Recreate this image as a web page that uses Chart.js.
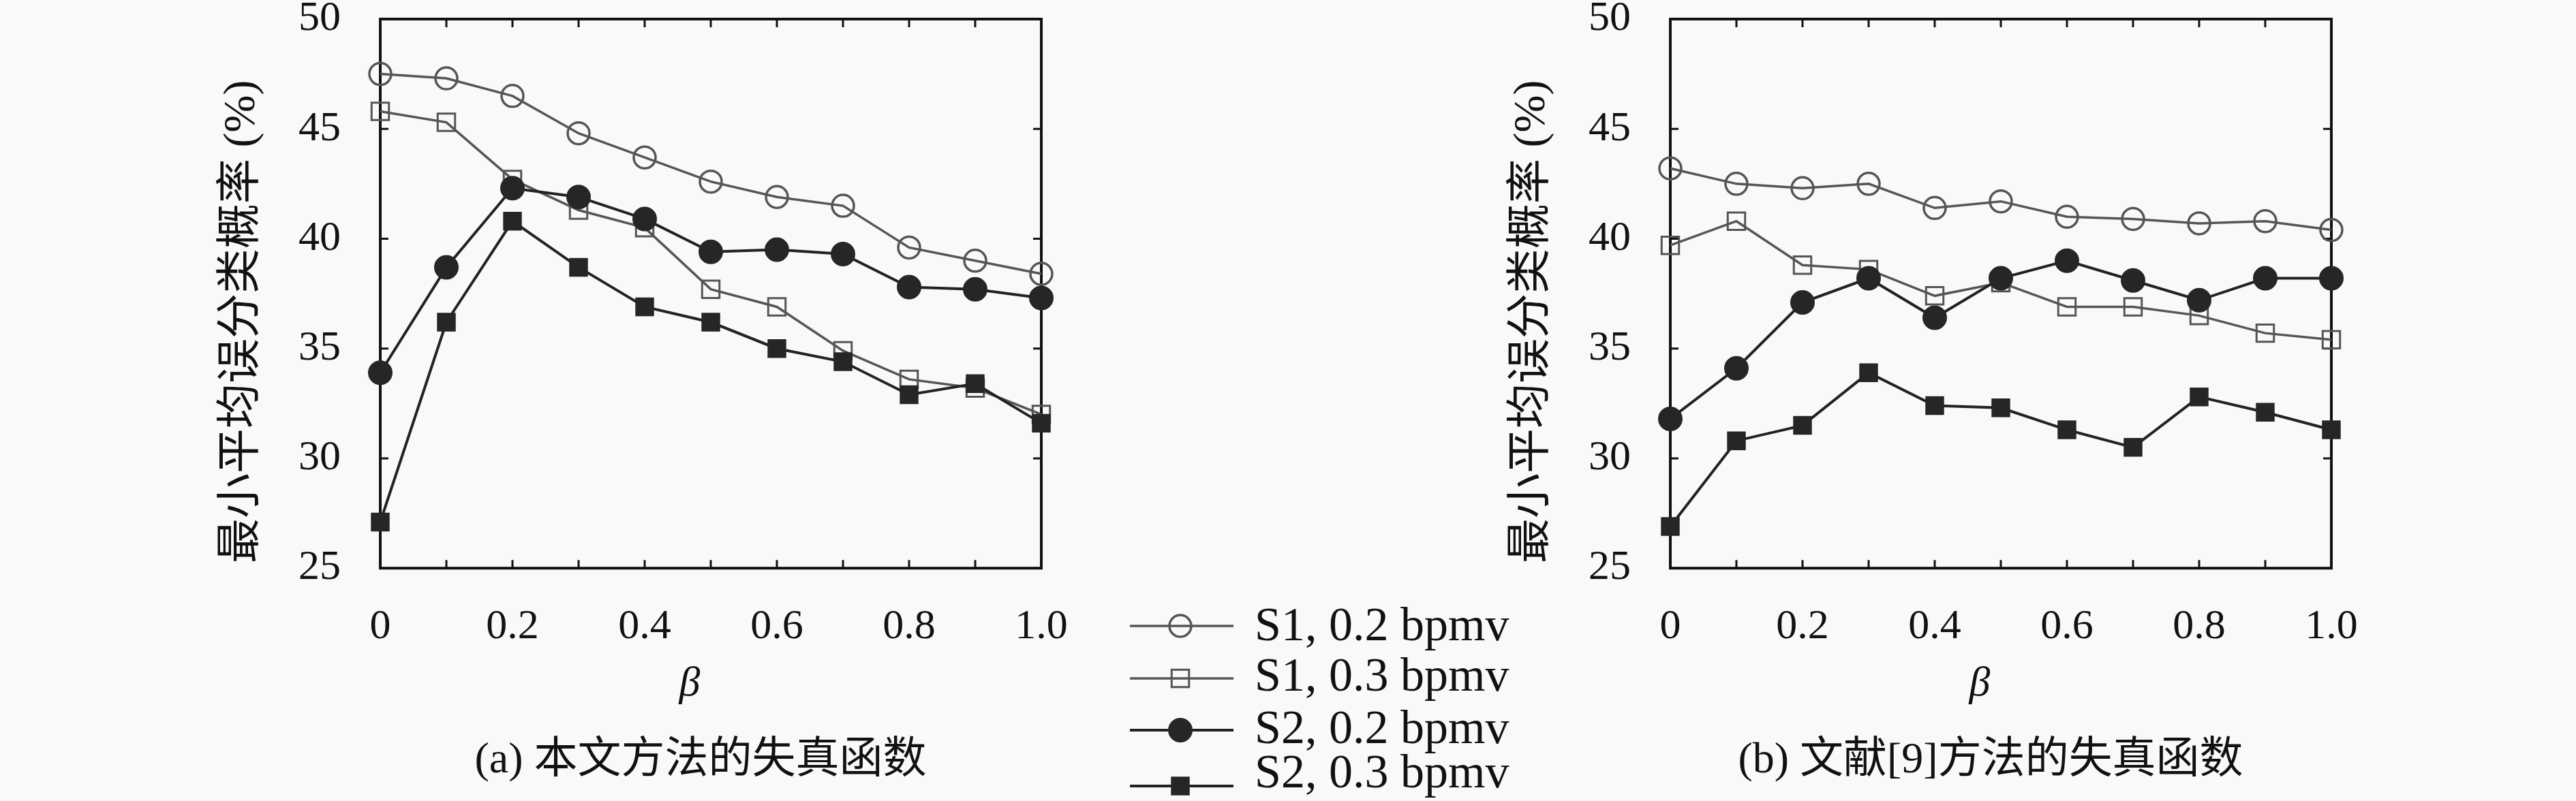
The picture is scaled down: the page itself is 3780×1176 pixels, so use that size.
<!DOCTYPE html>
<html>
<head>
<meta charset="utf-8">
<script src="https://cdn.jsdelivr.net/npm/chart.js@4"></script>
<style>
  html, body { margin: 0; padding: 0; background: #f9f9f9; }
  body { width: 3780px; height: 1176px; position: relative; overflow: hidden; }
  canvas { position: absolute; top: 0; }
</style>
</head>
<body>
<canvas id="chartA" width="2056" height="1176" style="left:0px"></canvas>
<canvas id="chartB" width="2056" height="1176" style="left:1893px"></canvas>
<canvas id="legend" width="700" height="326" style="left:1600px; top:850px"></canvas>
<script>
// beta values on the x axis
const betas = [0, 0.1, 0.2, 0.3, 0.4, 0.5, 0.6, 0.7, 0.8, 0.9, 1.0];
const xTickLabels = ['0', '0.2', '0.4', '0.6', '0.8', '1.0'];
const yTickLabels = ['25', '30', '35', '40', '45', '50'];
const seriesNames = ['S1, 0.2 bpmv', 'S1, 0.3 bpmv', 'S2, 0.2 bpmv', 'S2, 0.3 bpmv'];

// (a) 本文方法的失真函数
const a_s1_02 = [47.5, 47.3, 46.5, 44.8, 43.7, 42.6, 41.9, 41.5, 39.6, 39.0, 38.4];
const a_s1_03 = [45.8, 45.3, 42.7, 41.3, 40.5, 37.7, 36.9, 34.9, 33.6, 33.2, 32.0];
const a_s2_02 = [33.9, 38.7, 42.3, 41.9, 40.9, 39.4, 39.5, 39.3, 37.8, 37.7, 37.3];
const a_s2_03 = [27.1, 36.2, 40.8, 38.7, 36.9, 36.2, 35.0, 34.4, 32.9, 33.4, 31.6];

// (b) 文献[9]方法的失真函数
const b_s1_02 = [43.2, 42.5, 42.3, 42.5, 41.4, 41.7, 41.0, 40.9, 40.7, 40.8, 40.4];
const b_s1_03 = [39.7, 40.8, 38.8, 38.6, 37.4, 38.0, 36.9, 36.9, 36.5, 35.7, 35.4];
const b_s2_02 = [31.8, 34.1, 37.1, 38.2, 36.4, 38.2, 39.0, 38.1, 37.2, 38.2, 38.2];
const b_s2_03 = [26.9, 30.8, 31.5, 33.9, 32.4, 32.3, 31.3, 30.5, 32.8, 32.1, 31.3];

// trailing wide space pushes the rotated title a bit lower, as in the figure
const yTitle = '最小平均误分类概率 (%) \u3000';
const xTitle = 'β\u3000';
const serif = "'Liberation Serif', 'DejaVu Serif', 'Noto Sans CJK SC', serif";
const ink = '#111';

const styles = [
  { pointStyle: 'circle', pointRadius: 16, borderColor: '#555', borderWidth: 3.5,
    pointBorderColor: '#555', pointBorderWidth: 3.5, pointBackgroundColor: 'rgba(0,0,0,0)', order: 1 },
  { pointStyle: 'rect', pointRadius: 18, borderColor: '#555', borderWidth: 3.5,
    pointBorderColor: '#555', pointBorderWidth: 3, pointBackgroundColor: 'rgba(0,0,0,0)', order: 1 },
  { pointStyle: 'circle', pointRadius: 17, borderColor: '#222', borderWidth: 4,
    pointBorderColor: '#262626', pointBorderWidth: 2, pointBackgroundColor: '#262626', order: 0 },
  { pointStyle: 'rect', pointRadius: 18, borderColor: '#222', borderWidth: 4,
    pointBorderColor: '#262626', pointBorderWidth: 2, pointBackgroundColor: '#262626', order: 0 }
];

// box round the plot area plus inward tick marks on all four sides
const frame = {
  id: 'frame',
  beforeDatasetsDraw(chart) {
    const { ctx, chartArea: a, scales: { x, y } } = chart;
    const len = 12;
    ctx.save();
    ctx.strokeStyle = ink;
    ctx.lineWidth = 3;
    ctx.beginPath();
    x.ticks.forEach(t => {
      const px = x.getPixelForValue(t.value);
      ctx.moveTo(px, a.bottom); ctx.lineTo(px, a.bottom - len);
      ctx.moveTo(px, a.top); ctx.lineTo(px, a.top + len);
    });
    y.ticks.forEach(t => {
      const py = y.getPixelForValue(t.value);
      ctx.moveTo(a.left, py); ctx.lineTo(a.left + len, py);
      ctx.moveTo(a.right, py); ctx.lineTo(a.right - len, py);
    });
    ctx.stroke();
    ctx.lineWidth = 4;
    ctx.strokeRect(a.left, a.top, a.right - a.left, a.bottom - a.top);
    ctx.restore();
  }
};

function makeChart(id, series, caption) {
  return new Chart(document.getElementById(id), {
    type: 'line',
    data: {
      datasets: series.map((vals, i) => Object.assign({
        label: seriesNames[i],
        data: betas.map((b, j) => ({ x: b, y: vals[j] })),
        tension: 0,
        fill: false,
        clip: false
      }, styles[i]))
    },
    options: {
      responsive: false,
      animation: false,
      devicePixelRatio: 1,
      layout: { padding: 0 },
      plugins: {
        legend: { display: false },
        tooltip: { enabled: false },
        title: {
          display: true,
          position: 'bottom',
          text: caption,
          color: ink,
          font: { family: serif, size: 64, weight: 'normal' },
          padding: { top: 8, bottom: 20 }
        }
      },
      scales: {
        x: {
          type: 'linear', min: 0, max: 1,
          afterFit: s => { s.height = 237; s.paddingLeft = 0; s.paddingRight = 0; },
          grid: { display: false },
          border: { display: false },
          ticks: {
            stepSize: 0.1, autoSkip: false, maxRotation: 0, padding: 41, color: ink,
            font: { family: serif, size: 62 },
            callback: v => { const k = Math.round(v * 10); return k % 2 === 0 ? xTickLabels[k / 2] : ''; }
          },
          title: {
            display: true, text: xTitle, color: ink,
            font: { family: serif, size: 62, style: 'italic' },
            padding: { top: 0, bottom: 29 }
          }
        },
        y: {
          min: 25, max: 50,
          afterFit: s => { s.width = 558; s.paddingTop = 28; s.paddingBottom = 0; },
          grid: { display: false },
          border: { display: false },
          ticks: {
            stepSize: 5, padding: 50, color: ink,
            font: { family: serif, size: 62, lineHeight: 1 },
            callback: v => yTickLabels[Math.round((v - 25) / 5)]
          },
          title: {
            display: true, text: yTitle, color: ink,
            font: { family: serif, size: 66 },
            padding: { top: 316, bottom: 0 }
          }
        },
        // empty right-hand axis: reserves the room right of the plot
        y2: {
          position: 'right', min: 25, max: 50,
          afterFit: s => { s.width = 528; s.paddingTop = 28; s.paddingBottom = 0; },
          grid: { display: false },
          border: { display: false },
          ticks: { display: false }
        }
      }
    },
    plugins: [frame]
  });
}

makeChart('chartA', [a_s1_02, a_s1_03, a_s2_02, a_s2_03], '(a) 本文方法的失真函数');
makeChart('chartB', [b_s1_02, b_s1_03, b_s2_02, b_s2_03], '(b) 文献[9]方法的失真函数');

// shared legend: line with marker in the middle, then the label
const lineLegend = {
  id: 'lineLegend',
  afterDraw(chart, args, opts) {
    const ctx = chart.ctx;
    chart.data.datasets.forEach((ds, i) => {
      const y = opts.lineY[i];
      ctx.save();
      ctx.strokeStyle = ds.borderColor;
      ctx.lineWidth = ds.borderWidth;
      ctx.beginPath();
      ctx.moveTo(opts.x0, y); ctx.lineTo(opts.x1, y);
      ctx.stroke();
      ctx.fillStyle = ds.pointBackgroundColor;
      ctx.strokeStyle = ds.pointBorderColor;
      ctx.lineWidth = ds.pointBorderWidth;
      ctx.beginPath();
      const r = ds.pointRadius;
      if (ds.pointStyle === 'circle') {
        ctx.arc(opts.mx, y, r, 0, Math.PI * 2);
      } else {
        const h = r * Math.SQRT1_2;
        ctx.rect(opts.mx - h, y - h, 2 * h, 2 * h);
      }
      ctx.fill();
      ctx.stroke();
      ctx.fillStyle = ink;
      ctx.font = '70px ' + serif;
      ctx.textBaseline = 'middle';
      ctx.fillText(ds.label, opts.tx, opts.textY[i]);
      ctx.restore();
    });
  }
};

new Chart(document.getElementById('legend'), {
  type: 'line',
  data: {
    datasets: seriesNames.map((name, i) => Object.assign({ label: name, data: [] }, styles[i]))
  },
  options: {
    responsive: false,
    animation: false,
    devicePixelRatio: 1,
    scales: { x: { display: false }, y: { display: false } },
    plugins: {
      legend: { display: false },
      tooltip: { enabled: false },
      lineLegend: { x0: 58, x1: 210, mx: 132, tx: 241, lineY: [69, 146, 222, 304], textY: [72, 146, 223, 288] }
    }
  },
  plugins: [lineLegend]
});
</script>
</body>
</html>
